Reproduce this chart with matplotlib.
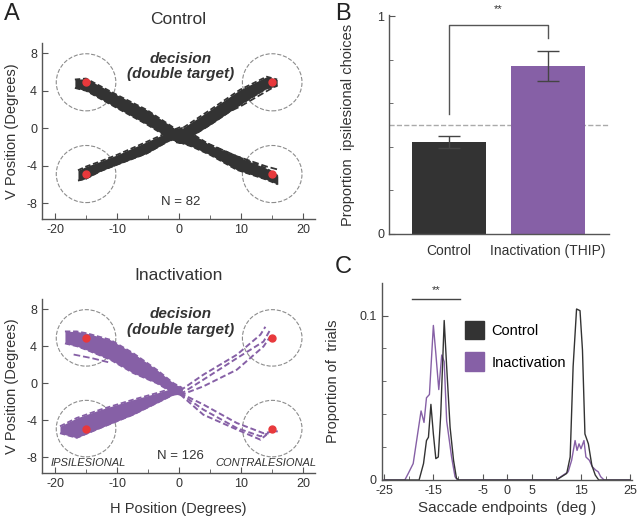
import matplotlib
matplotlib.use('Agg')
import matplotlib.pyplot as plt
from matplotlib.patches import Ellipse, Patch

plt.rcParams['font.family'] = ['Liberation Sans', 'DejaVu Sans']
plt.rcParams['axes.unicode_minus'] = False

####################################################################################################
# data

black = '#333333'
purple = '#8660a6'
red = '#e8393c'
grey = '#8c8c8c'

targets_x = [-15, -15, 15, 15]
targets_y = [4.9, -4.9, 4.9, -4.9]

# control trajectory bundles: x, upper edge, lower edge
ctrl_ul_x = [-16.8, -15, -10, -5.2, -1.0, 0.5]
ctrl_ul_hi = [5.2, 5.3, 3.55, 1.95, 0.1, -0.5]
ctrl_ul_lo = [4.3, 4.0, 2.15, 0.4, -1.3, -1.6]

ctrl_ll_x = [-16.3, -15, -12.7, -10, -5.2, -1.5, 0.5]
ctrl_ll_hi = [-4.5, -4.1, -3.55, -2.85, -1.45, -0.35, 0.2]
ctrl_ll_lo = [-5.6, -5.4, -4.6, -3.9, -2.7, -1.3, -1.2]

ctrl_ur_x = [-0.5, 0.2, 5, 9.8, 14.1, 15.8]
ctrl_ur_hi = [-0.3, -0.15, 1.95, 4.1, 5.5, 5.2]
ctrl_ur_lo = [-1.5, -1.6, 0.35, 2.5, 4.25, 4.5]

ctrl_lr_x = [0, 2, 5, 9.3, 14.1, 15.9]
ctrl_lr_hi = [-0.3, -0.55, -1.8, -3.0, -4.3, -5.1]
ctrl_lr_lo = [-1.5, -1.95, -2.85, -4.45, -5.5, -6.0]

# single control outlier traces
ctrl_out1_x = [1.8, 4.5, 9.3, 14.1, 15.8]
ctrl_out1_y = [-0.9, -1.6, -3.0, -4.1, -4.4]
ctrl_out2_x = [3, 9.8, 15.8]
ctrl_out2_y = [0.2, 2.3, 4.6]

# inactivation trajectory bundles
inact_ul_x = [-18.4, -16.5, -14.9, -11.1, -7.4, -3.6, -0.9, 0.5]
inact_ul_hi = [5.6, 5.6, 5.4, 4.7, 3.25, 1.46, 0.0, -0.5]
inact_ul_lo = [4.3, 4.0, 3.6, 2.55, 1.1, 0.0, -1.06, -1.3]

inact_ll_x = [-19.2, -16.5, -12.7, -7.4, -3.6, -0.9, 0.5]
inact_ll_hi = [-4.65, -3.75, -2.85, -1.77, -1.06, -0.5, -0.4]
inact_ll_lo = [-5.4, -5.9, -4.84, -3.4, -2.14, -1.24, -1.1]

inact_out_x = [-17, -14, -11]
inact_out_y = [3.1, 2.7, 2.2]

# inactivation single traces to the contralesional targets
inact_ur1_x = [0.16, 3.9, 9.3, 13.1, 13.9]
inact_ur1_y = [-0.8, 0.92, 3.08, 5.24, 6.1]
inact_ur2_x = [0.16, 3.9, 9.3, 13.6, 14.7]
inact_ur2_y = [-1.2, 0.38, 2.7, 4.5, 5.8]
inact_ur3_x = [0.16, 3.9, 9.3, 13.6, 14.7]
inact_ur3_y = [-1.3, -0.34, 1.46, 3.97, 5.05]

inact_lr1_x = [0.16, 3.9, 9.3, 13.6, 15.2, 15.9]
inact_lr1_y = [-1.06, -2.3, -4.3, -5.4, -5.2, -5.2]
inact_lr2_x = [0.16, 3.9, 9.3, 13.1, 14.4]
inact_lr2_y = [-1.1, -2.85, -4.84, -5.73, -5.4]
inact_lr3_x = [0.16, 3.9, 9.3, 13.1, 14.1]
inact_lr3_y = [-1.2, -3.4, -5.0, -6.1, -5.55]

# panel B
groups = ['Control', 'Inactivation (THIP)']
proportion = [0.423, 0.772]
proportion_err = [0.027, 0.07]
chance = 0.5

# panel C : endpoint distributions
ctrl_left_x = [-25, -17.9, -17.0, -16.4, -16.0, -15.5, -15.0, -14.5, -14.0, -13.5, -12.8, -12.3,
               -11.6, -10.9, -10.3, -9.8]
ctrl_left_y = [0, 0, 0.010, 0.024, 0.026, 0.046, 0.028, 0.013, 0.014, 0.040, 0.097, 0.069,
               0.032, 0.012, 0.001, 0]
ctrl_right_x = [-9.8, 10.0, 12.1, 12.8, 13.4, 14.1, 14.8, 15.3, 15.8, 16.5, 17.2, 17.9, 18.6, 25]
ctrl_right_y = [0, 0, 0.004, 0.014, 0.069, 0.104, 0.103, 0.079, 0.028, 0.022, 0.009, 0.003, 0, 0]

inact_left_x = [-25, -20.8, -20.1, -19.1, -18.4, -17.5, -16.9, -16.4, -15.8, -15.0, -14.5, -13.9,
                -13.3, -12.8, -12.3, -11.3, -10.6, -10.1]
inact_left_y = [0, 0, 0.004, 0.010, 0.024, 0.042, 0.035, 0.050, 0.052, 0.094, 0.077, 0.055,
                0.076, 0.072, 0.036, 0.014, 0.002, 0]
inact_right_x = [-10.1, 10.0, 10.4, 12.4, 13.1, 13.8, 14.2, 14.6, 15.0, 15.6, 16.0, 16.7, 17.3,
                 18.0, 18.5, 19.0, 19.7, 25]
inact_right_y = [0, 0, 0.001, 0.005, 0.012, 0.024, 0.018, 0.022, 0.019, 0.024, 0.014, 0.012,
                 0.008, 0.006, 0.005, 0.002, 0, 0]

####################################################################################################

def style_axis(ax):
    for side in ('top', 'right'):
        ax.spines[side].set_visible(False)
    for side in ('left', 'bottom'):
        ax.spines[side].set_color('#555555')
        ax.spines[side].set_linewidth(1.0)
    ax.tick_params(direction='in', length=4, color='#555555', labelcolor='#333333', labelsize=9)
    ax.tick_params(which='minor', direction='in', length=3, color='#555555')


def draw_bundle(ax, x, hi, lo, color):
    ax.fill_between(x, lo, hi, color=color, lw=0, zorder=3)
    ax.plot(x, hi, ls='--', color=color, lw=1.3, dashes=(3, 1.5), zorder=3)
    ax.plot(x, lo, ls='--', color=color, lw=1.3, dashes=(3, 1.5), zorder=3)


def trajectory_axis(ax, title, n_text):
    style_axis(ax)
    ax.set_xlim(-22.1, 21.9)
    ax.set_ylim(-9.7, 9.1)
    ax.set_xticks([-20, -10, 0, 10, 20])
    ax.set_xticks([-15, -5, 5, 15], minor=True)
    ax.set_yticks([-8, -4, 0, 4, 8])
    ax.set_ylabel('V Position (Degrees)', fontsize=10.5, color='#333333', labelpad=5)
    ax.set_title(title, fontsize=12.5, color='#333333', pad=14)
    for tx, ty in zip(targets_x, targets_y):
        ax.add_patch(Ellipse((tx, ty), 9.6, 6.1, fill=False, ec=grey, ls='--', lw=0.8, zorder=2))
        ax.plot(tx, ty, 'o', color=red, ms=5, zorder=5)
    ax.text(0.2, 6.6, 'decision\n(double target)', ha='center', va='center', fontsize=11,
            fontweight='bold', fontstyle='italic', color='#333333', linespacing=1.15)
    ax.text(0.2, -7.85, n_text, ha='center', va='center', fontsize=9.5, color='#333333')


figure = plt.figure(figsize=(6.4, 5.21), dpi=100)

####################################################################################################
# A, control

ax1 = figure.add_axes([0.0656, 0.5797, 0.4266, 0.3378])
trajectory_axis(ax1, 'Control', 'N = 82')
for x, hi, lo in ((ctrl_ul_x, ctrl_ul_hi, ctrl_ul_lo), (ctrl_ll_x, ctrl_ll_hi, ctrl_ll_lo),
                  (ctrl_ur_x, ctrl_ur_hi, ctrl_ur_lo), (ctrl_lr_x, ctrl_lr_hi, ctrl_lr_lo)):
    draw_bundle(ax1, x, hi, lo, black)
ax1.plot(ctrl_out1_x, ctrl_out1_y, ls='--', color=black, lw=1.3, zorder=3)
ax1.plot(ctrl_out2_x, ctrl_out2_y, ls='--', color=black, lw=1.3, zorder=3)
figure.text(0.006, 0.973, 'A', fontsize=17, color='#222222', va='center')

####################################################################################################
# A, inactivation

ax2 = figure.add_axes([0.0656, 0.0921, 0.4266, 0.334])
trajectory_axis(ax2, 'Inactivation', 'N = 126')
for x, hi, lo in ((inact_ul_x, inact_ul_hi, inact_ul_lo), (inact_ll_x, inact_ll_hi, inact_ll_lo)):
    draw_bundle(ax2, x, hi, lo, purple)
ax2.plot(inact_out_x, inact_out_y, ls='--', color=purple, lw=1.3, zorder=3)
for x, y in ((inact_ur1_x, inact_ur1_y), (inact_ur2_x, inact_ur2_y), (inact_ur3_x, inact_ur3_y),
             (inact_lr1_x, inact_lr1_y), (inact_lr2_x, inact_lr2_y), (inact_lr3_x, inact_lr3_y)):
    ax2.plot(x, y, ls='--', color=purple, lw=1.4, dashes=(3, 1.5), zorder=3)
ax2.text(-14.7, -8.6, 'IPSILESIONAL', ha='center', va='center', fontsize=8, fontstyle='italic',
         color='#333333')
ax2.text(14.0, -8.6, 'CONTRALESIONAL', ha='center', va='center', fontsize=8, fontstyle='italic',
         color='#333333')
ax2.set_xlabel('H Position (Degrees)', fontsize=10.5, color='#333333', labelpad=9)

####################################################################################################
# B

ax3 = figure.add_axes([0.6078, 0.5509, 0.3438, 0.4203])
style_axis(ax3)
positions = [0, 1]
ax3.bar(positions, proportion, width=0.74, color=[black, purple], zorder=2)
ax3.errorbar(positions, proportion, yerr=proportion_err, fmt='none', ecolor='#444444', elinewidth=1.0,
             capsize=8, capthick=1.0, zorder=3)
ax3.axhline(chance, color='#aaaaaa', ls='--', lw=1.0, zorder=1)
ax3.plot([0, 0, 1, 1], [0.55, 0.96, 0.96, 0.9], color='#555555', lw=1.0, clip_on=False)
ax3.text(0.5, 1.03, '**', ha='center', va='center', fontsize=8, color='#333333')
ax3.set_xlim(-0.606, 1.616)
ax3.set_ylim(0, 1.005)
ax3.set_xticks(positions)
ax3.set_xticklabels(groups, fontsize=10)
ax3.tick_params(axis='x', length=0, pad=7)
ax3.set_yticks([0, 1])
ax3.set_yticks([0.2, 0.4, 0.6, 0.8], minor=True)
ax3.set_ylabel('Proportion  ipsilesional choices', fontsize=10.5, color='#333333', labelpad=16)
figure.text(0.523, 0.973, 'B', fontsize=17, color='#222222', va='center')

####################################################################################################
# C

ax4 = figure.add_axes([0.5964, 0.0787, 0.3906, 0.3787])
style_axis(ax4)
ax4.plot(inact_left_x + inact_right_x, inact_left_y + inact_right_y, color=purple, lw=1.0)
ax4.plot(ctrl_left_x + ctrl_right_x, ctrl_left_y + ctrl_right_y, color=black, lw=1.0)
ax4.set_xlim(-25.5, 25.3)
ax4.set_ylim(0, 0.12)
ax4.set_xticks([-25, -15, -5, 0, 5, 15, 25])
ax4.set_xticks([-20, -10, 10, 20], minor=True)
ax4.set_yticks([0, 0.1])
ax4.set_yticklabels(['0', '0.1'])
ax4.set_yticks([0.02, 0.04, 0.06, 0.08], minor=True)
ax4.set_xlabel('Saccade endpoints  (deg )', fontsize=11, color='#333333', labelpad=3)
ax4.set_ylabel('Proportion of  trials', fontsize=10.5, color='#333333', labelpad=14)
ax4.plot([-19.4, -9.5], [0.1098, 0.1098], color='#444444', lw=1.0, clip_on=False)
ax4.text(-14.5, 0.1155, '**', ha='center', va='center', fontsize=8, color='#333333')
ax4.legend(handles=[Patch(color=black, label='Control'), Patch(color=purple, label='Inactivation')],
           loc='upper left', bbox_to_anchor=(0.305, 0.845), frameon=False, borderpad=0,
           handlelength=1.3, handleheight=1.6, labelspacing=0.9, handletextpad=0.5, fontsize=10.5)
figure.text(0.523, 0.487, 'C', fontsize=17, color='#222222', va='center')

figure.savefig('out.png', dpi=100)
